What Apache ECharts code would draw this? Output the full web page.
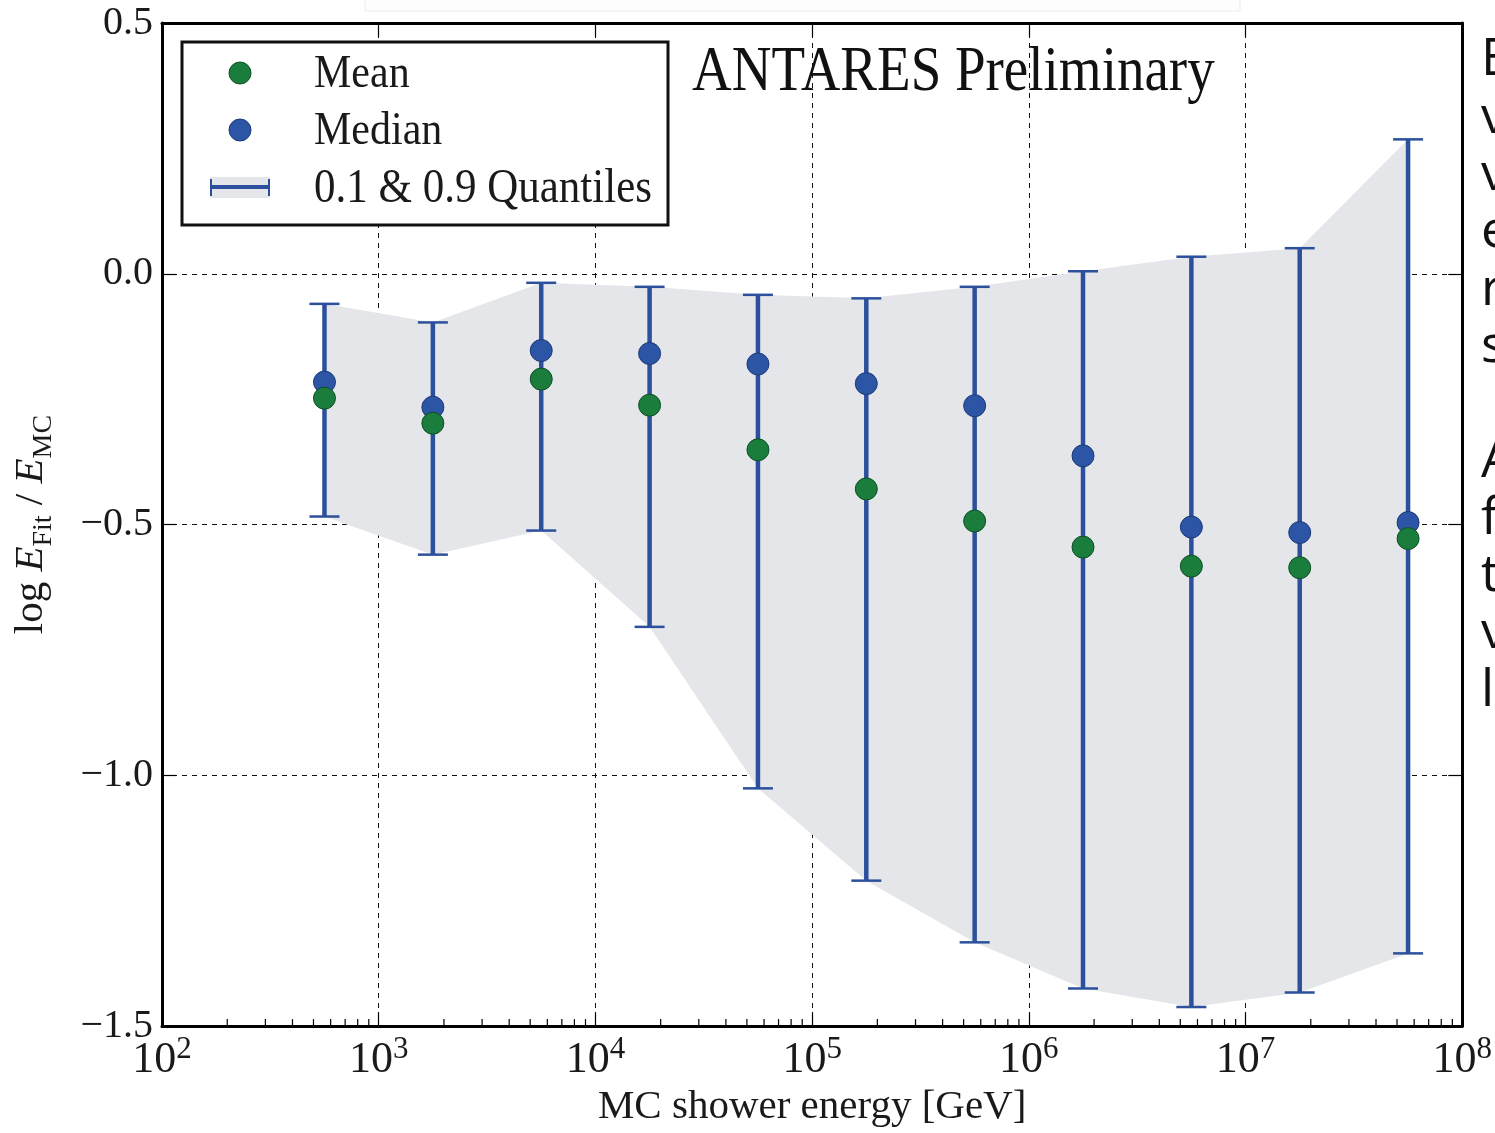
<!DOCTYPE html>
<html><head><meta charset="utf-8">
<script src="https://cdn.jsdelivr.net/npm/echarts@6/dist/echarts.min.js"></script>
<style>html,body{margin:0;padding:0;background:#fff}#c{width:1495px;height:1133px}</style>
</head><body><div id="c"></div>
<script>
// ---- data ----
const energies      = [562, 1778, 5623, 17783, 56234, 177828, 562341, 1778279, 5623413, 17782794, 56234133];
const meanValues    = [-0.248, -0.298, -0.210, -0.262, -0.351, -0.429, -0.493, -0.545, -0.583, -0.586, -0.528];
const medianValues  = [-0.216, -0.266, -0.153, -0.159, -0.180, -0.219, -0.263, -0.363, -0.505, -0.516, -0.496];
const q90Values     = [-0.060, -0.097, -0.018, -0.026, -0.042, -0.049, -0.026, 0.005, 0.034, 0.051, 0.268];
const q10Values     = [-0.484, -0.560, -0.512, -0.704, -1.026, -1.210, -1.333, -1.425, -1.462, -1.433, -1.355];
const xMin = 100, xMax = 1e8;
const yMin = -1.5, yMax = 0.5, yStep = 0.5;
const minorTickValues = [];
for (let k = 2; k < 8; k++) for (let m = 2; m <= 9; m++) minorTickValues.push(m * Math.pow(10, k));
const legendLabels = ['Mean', 'Median', '0.1 & 0.9 Quantiles'];
const titleText = 'ANTARES Preliminary';
const xAxisTitle = 'MC shower energy [GeV]';
const sideTextLines = ['E','v','v','e','r','s','','A','f','t','v','l'];

const SERIF = '"Liberation Serif", "DejaVu Serif", serif';
const TXT = '#1a1a1a';
const BAND = '#e4e6e9';
const EBAR = '#2d509c';
const BLUE = '#2c55a6';
const GREEN = '#1b7d3c';

const chart = echarts.init(document.getElementById('c'), null, {renderer: 'canvas'});

const yLabel = v => (v < 0 ? '\u2212' : '') + Math.abs(v).toFixed(1);
const xLabel = v => '{b|10}{s|' + Math.round(Math.log10(v)) + '}';
const gridLine = {show: true, lineStyle: {color: '#111', width: 1, type: [5, 5]}};

const option = {
  backgroundColor: '#fff',
  animation: false,
  grid: {left: 162, right: 28, top: 23, bottom: 98, containLabel: false},
  xAxis: [
    {
      type: 'log', logBase: 10, min: xMin, max: xMax, position: 'bottom',
      name: xAxisTitle, nameLocation: 'middle', nameGap: 60,
      nameTextStyle: {fontFamily: SERIF, fontSize: 41, color: TXT},
      axisLine: {show: true, onZero: false, lineStyle: {color: '#000', width: 3}},
      axisTick: {show: true, inside: true, length: 14, lineStyle: {color: '#000', width: 1.2}},
      axisLabel: {
        margin: 8, formatter: xLabel, color: TXT,
        rich: {
          b: {fontFamily: SERIF, fontSize: 44, color: TXT, lineHeight: 48, verticalAlign: 'bottom'},
          s: {fontFamily: SERIF, fontSize: 31, color: TXT, lineHeight: 48, verticalAlign: 'top', padding: [0, 0, 14, 0]}
        }
      },
      splitLine: gridLine,
      minorTick: {show: false}
    },
    {
      type: 'log', logBase: 10, min: xMin, max: xMax, position: 'top',
      axisLine: {show: true, onZero: false, lineStyle: {color: '#000', width: 3}},
      axisTick: {show: true, inside: true, length: 14, lineStyle: {color: '#000', width: 1.2}},
      axisLabel: {show: false}, splitLine: {show: false}
    }
  ],
  yAxis: [
    {
      type: 'value', min: yMin, max: yMax, interval: yStep, position: 'left',
      name: '{r|log }{i|E}{sub|Fit}{r| / }{i|E}{sub|MC}',
      nameLocation: 'middle', nameGap: 104, nameRotate: 90,
      nameTextStyle: {
        color: TXT,
        rich: {
          r: {fontFamily: SERIF, fontSize: 41, color: TXT, lineHeight: 54, verticalAlign: 'middle'},
          i: {fontFamily: SERIF, fontSize: 41, fontStyle: 'italic', color: TXT, lineHeight: 54, verticalAlign: 'middle'},
          sub: {fontFamily: SERIF, fontSize: 28, color: TXT, lineHeight: 24, verticalAlign: 'bottom'}
        }
      },
      axisLine: {show: true, onZero: false, lineStyle: {color: '#000', width: 3}},
      axisTick: {show: true, inside: true, length: 14, lineStyle: {color: '#000', width: 1.2}},
      axisLabel: {margin: 9, formatter: yLabel, fontFamily: SERIF, fontSize: 40, color: TXT},
      splitLine: gridLine
    },
    {
      type: 'value', min: yMin, max: yMax, interval: yStep, position: 'right',
      axisLine: {show: true, onZero: false, lineStyle: {color: '#000', width: 3}},
      axisTick: {show: true, inside: true, length: 14, lineStyle: {color: '#000', width: 1.2}},
      axisLabel: {show: false}, splitLine: {show: false}
    }
  ],
  series: [
    {
      name: 'band', type: 'custom', xAxisIndex: 0, yAxisIndex: 0, silent: true, z: 1,
      data: energies.map((e, i) => [e, q10Values[i], q90Values[i]]),
      renderItem: (params, api) => {
        if (params.dataIndex !== 0) return null;
        const top = energies.map((e, i) => api.coord([e, q90Values[i]]));
        const bot = energies.map((e, i) => api.coord([e, q10Values[i]])).reverse();
        return {type: 'polygon', shape: {points: top.concat(bot)}, style: {fill: BAND}};
      }
    },
    {
      name: legendLabels[2], type: 'custom', xAxisIndex: 0, yAxisIndex: 0, silent: true, z: 3,
      data: energies.map((e, i) => [e, q10Values[i], q90Values[i]]),
      renderItem: (params, api) => {
        const x = api.value(0);
        const pLo = api.coord([x, api.value(1)]);
        const pHi = api.coord([x, api.value(2)]);
        const cw = 15;
        return {type: 'group', children: [
          {type: 'line', shape: {x1: pLo[0], y1: pLo[1], x2: pHi[0], y2: pHi[1]}, style: {stroke: EBAR, lineWidth: 4.5}},
          {type: 'line', shape: {x1: pLo[0] - cw, y1: pLo[1], x2: pLo[0] + cw, y2: pLo[1]}, style: {stroke: EBAR, lineWidth: 2.5}},
          {type: 'line', shape: {x1: pHi[0] - cw, y1: pHi[1], x2: pHi[0] + cw, y2: pHi[1]}, style: {stroke: EBAR, lineWidth: 2.5}}
        ]};
      }
    },
    {
      name: 'minor ticks', type: 'custom', xAxisIndex: 0, yAxisIndex: 0, silent: true, z: 5,
      data: minorTickValues.map(v => [v, yMin]),
      renderItem: (params, api) => {
        const p = api.coord([api.value(0), yMin]);
        return {type: 'line', shape: {x1: p[0], y1: p[1], x2: p[0], y2: p[1] - 7}, style: {stroke: '#000', lineWidth: 1.2}};
      }
    },
    {
      name: legendLabels[1], type: 'scatter', xAxisIndex: 0, yAxisIndex: 0, z: 4,
      symbol: 'circle', symbolSize: 22,
      itemStyle: {color: BLUE, borderColor: '#1d3a78', borderWidth: 1, opacity: 1},
      data: energies.map((e, i) => [e, medianValues[i]])
    },
    {
      name: legendLabels[0], type: 'scatter', xAxisIndex: 0, yAxisIndex: 0, z: 4,
      symbol: 'circle', symbolSize: 22,
      itemStyle: {color: GREEN, borderColor: '#0f4f26', borderWidth: 1, opacity: 1},
      data: energies.map((e, i) => [e, meanValues[i]])
    }
  ],
  graphic: [
    {type: 'rect', z: 0, shape: {x: 365, y: -3, width: 875, height: 14}, style: {fill: '#fdfdfd', stroke: '#ececec', lineWidth: 1}},
    {type: 'rect', z: 20, shape: {x: 182, y: 42, width: 486, height: 183}, style: {fill: '#fff', stroke: '#111', lineWidth: 3}},
    {type: 'circle', z: 21, shape: {cx: 240, cy: 73, r: 11}, style: {fill: GREEN, stroke: '#0f4f26', lineWidth: 1}},
    {type: 'circle', z: 21, shape: {cx: 240, cy: 130, r: 11}, style: {fill: BLUE, stroke: '#1d3a78', lineWidth: 1}},
    {type: 'rect', z: 21, shape: {x: 210, y: 177, width: 60, height: 21}, style: {fill: BAND}},
    {type: 'line', z: 22, shape: {x1: 211, y1: 187, x2: 269, y2: 187}, style: {stroke: EBAR, lineWidth: 4}},
    {type: 'line', z: 22, shape: {x1: 211, y1: 179, x2: 211, y2: 196}, style: {stroke: EBAR, lineWidth: 2}},
    {type: 'line', z: 22, shape: {x1: 269, y1: 179, x2: 269, y2: 196}, style: {stroke: EBAR, lineWidth: 2}},
    {type: 'text', z: 22, x: 314, y: 75, scaleY: 1.12, style: {text: legendLabels[0], font: '42px ' + SERIF, fill: TXT, textVerticalAlign: 'middle'}},
    {type: 'text', z: 22, x: 314, y: 132, scaleY: 1.12, style: {text: legendLabels[1], font: '42px ' + SERIF, fill: TXT, textVerticalAlign: 'middle'}},
    {type: 'text', z: 22, x: 314, y: 189, scaleY: 1.12, style: {text: legendLabels[2], font: '43px ' + SERIF, fill: TXT, textVerticalAlign: 'middle'}},
    {type: 'text', z: 22, x: 692, y: 73, scaleY: 1.15, style: {text: titleText, font: '55px ' + SERIF, fill: '#111', textVerticalAlign: 'middle'}},
    {type: 'text', z: 22, x: 1481, y: 32, style: {text: sideTextLines.join('\n'), font: '52px "Open Sans", "Noto Sans", sans-serif', fill: '#111', lineHeight: 57.3, textVerticalAlign: 'top'}}
  ]
};
chart.setOption(option);
</script>
</body></html>
